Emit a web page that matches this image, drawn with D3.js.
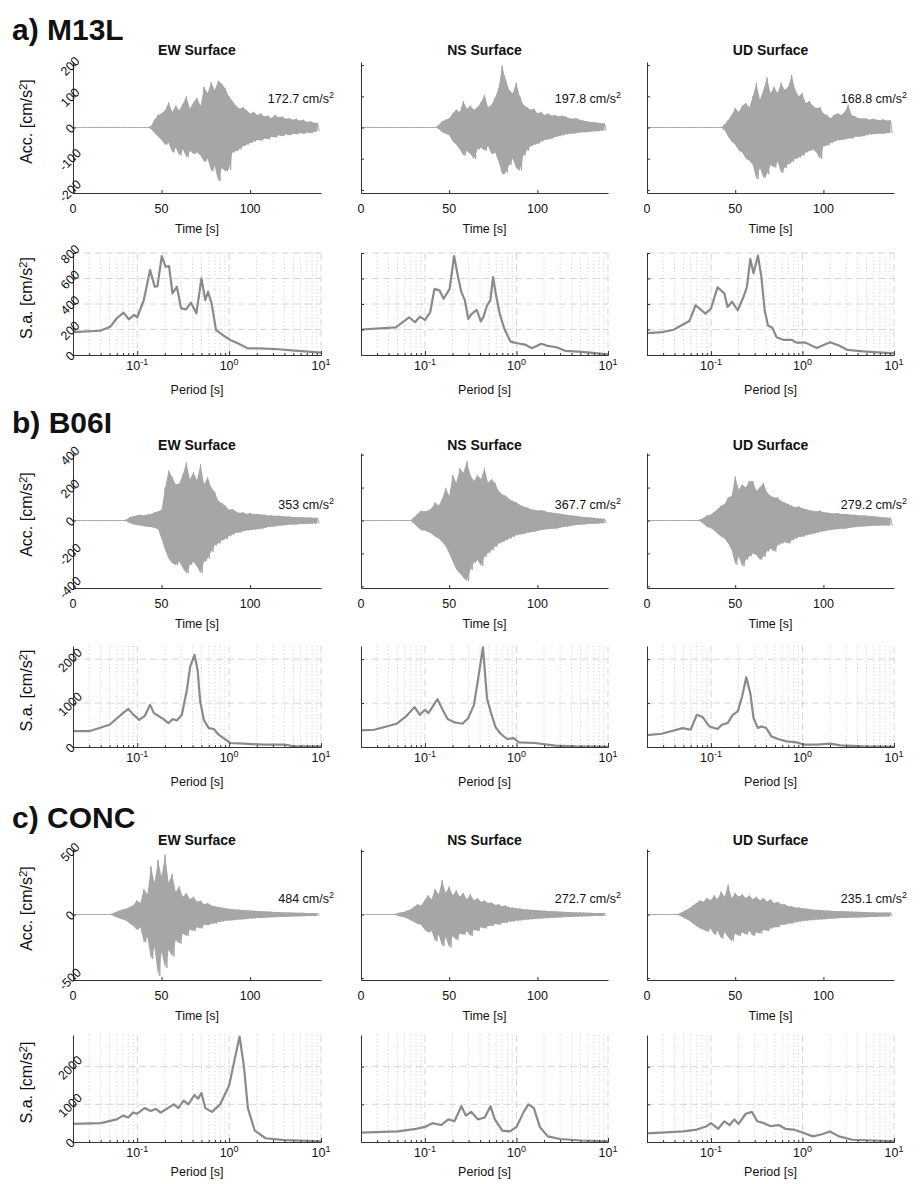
<!DOCTYPE html>
<html>
<head>
<meta charset="utf-8">
<script src="https://cdn.jsdelivr.net/npm/d3@7"></script>
<style>
  body { margin: 0; background: #fff; }
  svg { display: block; }
  text { font-family: "Liberation Sans", Arial, sans-serif; fill: #111; }
</style>
</head>
<body>
<div id="container"></div>
<script>
"use strict";

// Stations (rows) and components (columns).
const stations = ["a) M13L", "b) B06I", "c) CONC"];
const components = ["EW Surface", "NS Surface", "UD Surface"];

// Peak ground acceleration written on each record [cm/s^2].
const pgaLabels = [
  ["172.7", "197.8", "168.8"],
  ["353", "367.7", "279.2"],
  ["484", "272.7", "235.1"],
];

// Ticks.
const timeTicks = [0, 50, 100];
const periodTicks = [0.1, 1, 10];
const periodMinorTicks = [0.03, 0.04, 0.05, 0.06, 0.07, 0.08, 0.09,
  0.2, 0.3, 0.4, 0.5, 0.6, 0.7, 0.8, 0.9, 2, 3, 4, 5, 6, 7, 8, 9];
const accTicks = [[-200, -100, 0, 100, 200], [-400, -200, 0, 200, 400], [-500, 0, 500]];
const saTicks = [[0, 200, 400, 600, 800], [0, 1000, 2000], [0, 1000, 2000]];
const accLimits = [210, 410, 516];
const saLimits = [800, 2300, 2840];
const timeLimits = [0, 140];
const periodLimits = [0.02, 10];

// Acceleration records, kept as the positive and negative peak of each
// 2 s window, starting at t = 0 s [cm/s^2].
const binWidth = 2;

const accM13L_EW_up = [0,0,0,0,0,0,0,0,0,0,0,0,0,0,0,0,0,0,0,0,0,0,
  5,25,40,45,55,80,50,70,55,75,100,60,80,95,70,130,110,145,120,150,140,125,100,85,70,60,65,55,45,50,40,45,35,38,30,40,32,35,28,30,25,28,22,25,18,20,15,14];
const accM13L_EW_lo = [0,0,0,0,0,0,0,0,0,0,0,0,0,0,0,0,0,0,0,0,0,0,
  -5,-18,-30,-40,-55,-50,-80,-65,-90,-70,-95,-75,-85,-80,-90,-110,-100,-140,-125,-172,-130,-140,-135,-80,-75,-70,-60,-55,-50,-45,-40,-42,-35,-38,-30,-32,-25,-28,-22,-25,-20,-22,-18,-20,-16,-18,-14,-12];
const accM13L_NS_up = [0,0,0,0,0,0,0,0,0,0,0,0,0,0,0,0,0,0,0,0,0,0,
  8,20,25,30,45,57,50,84,60,70,57,65,80,105,65,73,95,127,198,154,120,110,143,100,73,65,57,60,45,50,40,45,38,40,35,38,35,30,28,30,25,22,20,18,18,15,14,13];
const accM13L_NS_lo = [0,0,0,0,0,0,0,0,0,0,0,0,0,0,0,0,0,0,0,0,0,0,
  -5,-15,-20,-25,-45,-55,-70,-90,-75,-85,-101,-70,-65,-74,-60,-85,-80,-110,-150,-145,-120,-100,-130,-139,-90,-74,-60,-55,-52,-45,-40,-38,-35,-30,-28,-25,-22,-20,-20,-18,-16,-15,-15,-14,-12,-12,-10,-10];
const accM13L_UD_up = [0,0,0,0,0,0,0,0,0,0,0,0,0,0,0,0,0,0,0,0,0,0,
  10,24,40,62,50,70,78,65,100,143,90,120,160,110,130,111,143,120,130,168,120,100,110,78,85,70,62,65,45,40,29,40,45,40,50,73,40,35,30,29,30,25,28,25,24,26,22,24];
const accM13L_UD_lo = [0,0,0,0,0,0,0,0,0,0,0,0,0,0,0,0,0,0,0,0,0,0,
  -10,-30,-45,-55,-74,-80,-100,-107,-120,-166,-130,-161,-150,-120,-128,-110,-145,-130,-117,-110,-100,-96,-90,-80,-75,-70,-80,-101,-60,-58,-50,-45,-41,-40,-38,-35,-35,-30,-30,-28,-25,-22,-22,-20,-20,-20,-18,-18];

const accB06I_EW_up = [0,0,0,0,0,0,0,0,0,0,0,0,0,0,0,
  5,20,26,30,35,30,36,40,50,55,65,200,303,263,220,224,280,352,250,293,244,343,220,263,200,174,120,105,90,65,70,55,46,50,40,45,38,40,36,35,30,32,28,30,26,25,24,22,22,20,20,18,18,16,16];
const accB06I_EW_lo = [0,0,0,0,0,0,0,0,0,0,0,0,0,0,0,
  -5,-15,-24,-28,-30,-35,-38,-40,-45,-53,-113,-180,-232,-260,-271,-250,-290,-320,-270,-251,-280,-320,-250,-232,-190,-152,-140,-120,-113,-95,-85,-75,-73,-65,-60,-58,-55,-53,-50,-45,-40,-38,-35,-32,-30,-28,-26,-25,-24,-22,-22,-20,-20,-18,-18];
const accB06I_NS_up = [0,0,0,0,0,0,0,0,0,0,0,0,0,0,0,
  20,40,59,55,60,75,109,90,130,198,150,277,230,317,290,360,277,240,277,250,317,230,250,228,180,158,150,130,119,110,95,85,79,70,65,60,62,59,50,48,45,42,40,35,32,30,28,25,22,20,18,16,14,12,10];
const accB06I_NS_lo = [0,0,0,0,0,0,0,0,0,0,0,0,0,0,0,
  -20,-40,-59,-60,-70,-80,-99,-110,-130,-158,-200,-250,-297,-320,-347,-367,-300,-257,-240,-277,-220,-198,-180,-160,-139,-130,-120,-110,-99,-90,-85,-80,-75,-70,-69,-62,-58,-55,-52,-50,-50,-45,-40,-38,-35,-30,-28,-26,-25,-22,-20,-20,-18,-16,-16];
const accB06I_UD_up = [0,0,0,0,0,0,0,0,0,0,0,0,0,0,0,
  5,15,30,35,50,70,89,100,139,150,267,190,218,200,240,238,180,200,228,170,150,139,140,119,110,100,90,79,85,75,70,62,59,55,60,50,48,45,42,45,40,40,38,35,35,32,30,30,28,26,25,22,20,18,16];
const accB06I_UD_lo = [0,0,0,0,0,0,0,0,0,0,0,0,0,0,0,
  -5,-20,-40,-45,-60,-80,-99,-110,-139,-180,-267,-220,-279,-240,-218,-200,-210,-238,-220,-188,-170,-188,-150,-140,-130,-139,-120,-110,-100,-99,-90,-85,-80,-75,-69,-65,-60,-58,-55,-52,-50,-50,-45,-42,-40,-38,-36,-35,-34,-32,-32,-30,-30,-30,-30];

const accCONC_EW_up = [0,0,0,0,0,0,0,0,0,0,0,
  5,20,30,40,45,60,70,110,90,200,160,380,250,430,300,470,250,320,180,220,140,170,120,140,100,110,80,90,70,65,60,55,50,45,42,40,38,36,34,32,30,28,26,25,24,22,20,20,18,18,16,15,14,14,13,12,12,11,10];
const accCONC_EW_lo = [0,0,0,0,0,0,0,0,0,0,0,
  -5,-20,-30,-40,-50,-70,-90,-120,-100,-220,-180,-350,-260,-484,-300,-420,-280,-330,-200,-230,-150,-170,-120,-130,-100,-110,-80,-85,-70,-70,-60,-55,-50,-48,-45,-42,-40,-38,-35,-32,-30,-28,-27,-25,-24,-22,-21,-20,-19,-18,-17,-16,-15,-14,-13,-12,-12,-11,-10];
const accCONC_NS_up = [0,0,0,0,0,0,0,0,0,0,
  5,15,20,30,40,60,80,70,110,150,120,200,160,272,170,220,150,190,140,170,120,160,110,130,100,110,90,95,75,80,65,70,55,55,48,48,42,40,38,36,34,32,30,28,26,25,24,22,20,20,18,17,16,15,14,13,12,12,11,10];
const accCONC_NS_lo = [0,0,0,0,0,0,0,0,0,0,
  -5,-15,-20,-30,-45,-60,-75,-80,-120,-140,-130,-210,-160,-250,-180,-260,-170,-200,-150,-160,-130,-170,-120,-130,-100,-110,-90,-90,-75,-80,-65,-65,-55,-55,-48,-48,-42,-42,-38,-36,-34,-32,-30,-28,-26,-25,-24,-22,-20,-20,-18,-17,-16,-15,-14,-13,-12,-12,-11,-10];
const accCONC_UD_up = [0,0,0,0,0,0,0,0,0,
  5,20,35,50,70,90,110,100,130,110,150,120,180,140,235,130,170,140,160,130,150,120,140,110,130,100,120,90,100,80,80,65,65,55,55,48,48,42,40,38,36,34,32,30,28,27,26,25,24,23,22,21,20,19,18,17,16,16,15,15,15];
const accCONC_UD_lo = [0,0,0,0,0,0,0,0,0,
  -5,-20,-35,-50,-70,-90,-110,-120,-135,-110,-160,-130,-190,-140,-180,-210,-150,-170,-140,-160,-130,-170,-140,-150,-120,-130,-110,-100,-100,-80,-80,-70,-70,-62,-58,-52,-50,-46,-44,-42,-40,-38,-35,-33,-31,-29,-28,-27,-26,-25,-24,-23,-22,-21,-20,-19,-18,-17,-16,-15,-15];

// Response spectra, [period s, S.a. cm/s^2].
const saM13L_EW = [[0.02,180],[0.0395,190],[0.051,222],[0.06,288],[0.071,332],[0.081,280],[0.092,314],[0.1,296],[0.118,431],[0.138,666],[0.155,535],[0.166,540],[0.185,776],[0.204,692],[0.222,697],[0.242,483],[0.27,535],[0.30,366],[0.34,358],[0.385,410],[0.44,327],[0.50,601],[0.55,431],[0.59,496],[0.645,405],[0.72,196],[0.85,157],[1.03,118],[1.24,92],[1.6,52],[2.2,52],[3.4,45],[5.2,34],[10,18]];
const saM13L_NS = [[0.02,200],[0.048,217],[0.067,296],[0.078,257],[0.088,301],[0.1,275],[0.114,335],[0.127,519],[0.144,507],[0.16,441],[0.186,519],[0.208,776],[0.23,612],[0.25,493],[0.273,428],[0.297,283],[0.324,323],[0.368,354],[0.408,264],[0.437,301],[0.476,388],[0.518,428],[0.555,612],[0.594,480],[0.656,323],[0.74,202],[0.86,105],[1.02,92],[1.27,79],[1.47,53],[1.87,88],[2.2,71],[2.73,61],[3.4,33],[5.2,25],[10,5]];
const saM13L_UD = [[0.02,171],[0.0293,179],[0.039,198],[0.058,266],[0.068,390],[0.087,325],[0.1,364],[0.118,531],[0.14,483],[0.152,377],[0.17,417],[0.196,351],[0.223,443],[0.247,533],[0.269,752],[0.292,642],[0.326,779],[0.355,616],[0.386,351],[0.42,232],[0.468,214],[0.52,140],[0.616,119],[0.76,119],[0.86,97],[1.08,97],[1.43,55],[2.0,100],[2.5,74],[3.1,40],[4.6,29],[10,13]];
const saB06I_EW = [[0.02,360],[0.03,360],[0.05,506],[0.07,771],[0.08,869],[0.089,755],[0.105,619],[0.121,710],[0.138,960],[0.152,771],[0.174,695],[0.193,636],[0.218,545],[0.244,636],[0.27,604],[0.306,733],[0.347,1300],[0.377,1830],[0.42,2095],[0.454,1755],[0.485,1035],[0.53,620],[0.60,431],[0.68,409],[0.77,280],[0.87,204],[1.03,91],[1.45,75],[2.4,52],[4.1,52],[5.1,14],[10,14]];
const saB06I_NS = [[0.02,377],[0.028,393],[0.049,529],[0.063,711],[0.077,908],[0.088,733],[0.1,847],[0.109,772],[0.137,1090],[0.156,847],[0.177,636],[0.211,560],[0.257,529],[0.297,658],[0.343,960],[0.384,1603],[0.43,2270],[0.476,1112],[0.528,772],[0.59,454],[0.67,302],[0.79,182],[0.93,204],[1.07,104],[1.58,91],[2.67,30],[4.4,14],[10,5]];
const saB06I_UD = [[0.02,272],[0.029,302],[0.049,431],[0.06,393],[0.07,733],[0.081,681],[0.096,468],[0.118,409],[0.132,506],[0.152,545],[0.173,733],[0.196,808],[0.219,1149],[0.243,1589],[0.269,1226],[0.292,658],[0.326,431],[0.355,468],[0.402,431],[0.458,241],[0.54,182],[0.67,127],[0.86,104],[1.06,52],[1.43,52],[2.0,75],[2.6,36],[4.6,14],[10,5]];
const saCONC_EW = [[0.02,480],[0.04,500],[0.06,600],[0.07,700],[0.08,650],[0.09,780],[0.1,750],[0.12,900],[0.14,820],[0.16,880],[0.18,780],[0.2,850],[0.25,1000],[0.28,900],[0.32,1100],[0.36,1000],[0.42,1250],[0.46,1150],[0.5,1300],[0.55,900],[0.65,800],[0.8,1000],[1.0,1500],[1.15,2200],[1.3,2800],[1.45,2000],[1.6,900],[1.9,300],[2.5,100],[4,50],[10,20]];
const saCONC_NS = [[0.02,250],[0.05,280],[0.08,350],[0.1,400],[0.12,500],[0.15,450],[0.18,600],[0.21,550],[0.25,950],[0.28,700],[0.32,800],[0.38,600],[0.45,650],[0.52,950],[0.58,600],[0.7,300],[0.85,280],[1.0,400],[1.2,800],[1.35,1000],[1.55,900],[1.8,400],[2.2,150],[3,80],[5,40],[10,20]];
const saCONC_UD = [[0.02,230],[0.05,280],[0.07,330],[0.09,420],[0.1,500],[0.12,350],[0.14,550],[0.16,450],[0.18,600],[0.2,480],[0.24,750],[0.28,800],[0.32,550],[0.38,500],[0.45,420],[0.55,450],[0.65,350],[0.8,330],[1.0,250],[1.3,150],[1.6,200],[2.0,280],[2.5,150],[3.5,60],[10,20]];

const accUp = [
  [accM13L_EW_up, accM13L_NS_up, accM13L_UD_up],
  [accB06I_EW_up, accB06I_NS_up, accB06I_UD_up],
  [accCONC_EW_up, accCONC_NS_up, accCONC_UD_up],
];
const accLo = [
  [accM13L_EW_lo, accM13L_NS_lo, accM13L_UD_lo],
  [accB06I_EW_lo, accB06I_NS_lo, accB06I_UD_lo],
  [accCONC_EW_lo, accCONC_NS_lo, accCONC_UD_lo],
];
const spectra = [
  [saM13L_EW, saM13L_NS, saM13L_UD],
  [saB06I_EW, saB06I_NS, saB06I_UD],
  [saCONC_EW, saCONC_NS, saCONC_UD],
];

// Page layout (pixels).
const columns = [
  { x0: 73, x1: 321 },
  { x0: 361, x1: 608 },
  { x0: 647, x1: 894 },
];
const rows = [
  { labelY: 40, titleY: 55, acc: [62, 193], sa: [253, 355], pgaY: 103 },
  { labelY: 433, titleY: 450, acc: [453, 588], sa: [646, 747], pgaY: 509 },
  { labelY: 828, titleY: 845, acc: [849, 980], sa: [1035, 1142], pgaY: 903 },
];
const AXIS_COLOR = "#333";
const TRACE_COLOR = "#a6a6a6";
const SPECTRUM_COLOR = "#8a8a8a";
const TICK_FONT = 12.5;
const YLABEL_FONT = 16;

const svg = d3.select("#container").append("svg").attr("width", 922).attr("height", 1184);

/** Append "text" with a superscript exponent. */
function supText(sel, before, sup, after, size) {
  sel.append("tspan").text(before);
  sel.append("tspan").attr("dy", -5).attr("font-size", size * 0.72).text(sup);
  if (after) sel.append("tspan").attr("dy", 5).text(after);
  return sel;
}

function styleAxis(g) {
  g.select(".domain").attr("stroke", AXIS_COLOR).attr("stroke-width", 1);
  g.selectAll(".tick line").attr("stroke", AXIS_COLOR).attr("stroke-width", 1);
  g.selectAll(".tick text").remove();
}

function drawRotatedYTicks(g, y, ticks, x0) {
  ticks.forEach((v) => {
    g.append("text")
      .attr("transform", `translate(${x0 - 3},${y(v) + 1}) rotate(-45)`)
      .attr("text-anchor", "middle")
      .attr("dy", "0.35em")
      .attr("font-size", TICK_FONT)
      .text(String(v));
  });
}

function drawYLabel(cy, text) {
  const t = svg.append("text")
    .attr("transform", `translate(32,${cy}) rotate(-90)`)
    .attr("text-anchor", "middle")
    .attr("font-size", YLABEL_FONT);
  supText(t, `${text} [cm/s`, "2", "]", YLABEL_FONT);
}

function drawAcc(r, c) {
  const L = rows[r], C = columns[c];
  const g = svg.append("g");
  const x = d3.scaleLinear().domain(timeLimits).range([C.x0, C.x1]);
  const y = d3.scaleLinear().domain([-accLimits[r], accLimits[r]]).range([L.acc[1], L.acc[0]]);

  // Draw trace: filled band between the window peaks, plus the swing
  // from each positive peak to the negative one (gives the flat pre-event line).
  const up = accUp[r][c], lo = accLo[r][c];
  g.append("path")
    .attr("d", d3.area()
      .x((d, i) => x(i * binWidth))
      .y0((d, i) => y(lo[i]))
      .y1((d) => y(d))(up))
    .attr("fill", TRACE_COLOR);
  const pts = [];
  up.forEach((v, i) => {
    pts.push([i * binWidth, v]);
    pts.push([i * binWidth + binWidth / 2, lo[i]]);
  });
  g.append("path")
    .attr("d", d3.line().x((d) => x(d[0])).y((d) => y(d[1]))(pts))
    .attr("fill", "none")
    .attr("stroke", TRACE_COLOR)
    .attr("stroke-width", 1);

  // Draw x-axis.
  g.append("g")
    .attr("transform", `translate(0,${L.acc[1]})`)
    .call(d3.axisBottom(x).tickValues(timeTicks).tickSizeInner(-3).tickSizeOuter(0))
    .call(styleAxis);
  timeTicks.forEach((v) => {
    g.append("text").attr("x", x(v)).attr("y", L.acc[1] + 20)
      .attr("text-anchor", "middle").attr("font-size", TICK_FONT).text(v);
  });
  g.append("text").attr("x", (C.x0 + C.x1) / 2).attr("y", L.acc[1] + 40)
    .attr("text-anchor", "middle").attr("font-size", TICK_FONT).text("Time [s]");

  // Draw y-axis.
  g.append("g")
    .attr("transform", `translate(${C.x0},0)`)
    .call(d3.axisLeft(y).tickValues(accTicks[r]).tickSizeInner(-3).tickSizeOuter(0))
    .call(styleAxis);
  if (c === 0) {
    drawRotatedYTicks(g, y, accTicks[r], C.x0);
    drawYLabel((L.acc[0] + L.acc[1]) / 2 - 6, "Acc.");
  }

  // Title and peak value.
  g.append("text").attr("x", (C.x0 + C.x1) / 2).attr("y", L.titleY)
    .attr("text-anchor", "middle").attr("font-size", 14).attr("font-weight", "bold")
    .text(components[c]);
  const t = g.append("text").attr("x", C.x1 + 13).attr("y", L.pgaY)
    .attr("text-anchor", "end").attr("font-size", TICK_FONT);
  supText(t, `${pgaLabels[r][c]} cm/s`, "2", null, TICK_FONT);
}

function drawSpectrum(r, c) {
  const L = rows[r], C = columns[c];
  const g = svg.append("g");
  const x = d3.scaleLog().domain(periodLimits).range([C.x0, C.x1]);
  const y = d3.scaleLinear().domain([0, saLimits[r]]).range([L.sa[1], L.sa[0]]);

  // Grid: dotted minor lines, dashed major lines.
  g.selectAll(null).data(periodMinorTicks).join("line")
    .attr("x1", (d) => x(d)).attr("x2", (d) => x(d))
    .attr("y1", L.sa[0]).attr("y2", L.sa[1])
    .attr("stroke", "#bdbdbd").attr("stroke-width", 0.8).attr("stroke-dasharray", "1,2.6");
  g.selectAll(null).data(periodTicks).join("line")
    .attr("x1", (d) => x(d)).attr("x2", (d) => x(d))
    .attr("y1", L.sa[0]).attr("y2", L.sa[1])
    .attr("stroke", "#d6d6d6").attr("stroke-width", 1).attr("stroke-dasharray", "7,4");
  g.selectAll(null).data(saTicks[r].filter((d) => d > 0)).join("line")
    .attr("x1", C.x0).attr("x2", C.x1)
    .attr("y1", (d) => y(d)).attr("y2", (d) => y(d))
    .attr("stroke", "#d6d6d6").attr("stroke-width", 1).attr("stroke-dasharray", "7,4");

  // Draw spectrum.
  g.append("path")
    .attr("d", d3.line().x((d) => x(d[0])).y((d) => y(d[1]))(spectra[r][c]))
    .attr("fill", "none")
    .attr("stroke", SPECTRUM_COLOR)
    .attr("stroke-width", 2.2)
    .attr("stroke-linejoin", "round");

  // Draw x-axis.
  g.append("g")
    .attr("transform", `translate(0,${L.sa[1]})`)
    .call(d3.axisBottom(x).tickValues(periodMinorTicks).tickSizeInner(-2).tickSizeOuter(0))
    .call(styleAxis);
  g.append("g")
    .attr("transform", `translate(0,${L.sa[1]})`)
    .call(d3.axisBottom(x).tickValues(periodTicks).tickSizeInner(-4).tickSizeOuter(0))
    .call(styleAxis);
  periodTicks.forEach((v) => {
    const t = g.append("text").attr("x", x(v)).attr("y", L.sa[1] + 15)
      .attr("text-anchor", "middle").attr("font-size", TICK_FONT);
    supText(t, "10", String(Math.round(Math.log10(v))), null, TICK_FONT);
  });
  // Keep the bottom label inside the page.
  g.append("text").attr("x", (C.x0 + C.x1) / 2).attr("y", Math.min(L.sa[1] + 39, 1176))
    .attr("text-anchor", "middle").attr("font-size", TICK_FONT).text("Period [s]");

  // Draw y-axis.
  g.append("g")
    .attr("transform", `translate(${C.x0},0)`)
    .call(d3.axisLeft(y).tickValues(saTicks[r]).tickSizeInner(-3).tickSizeOuter(0))
    .call(styleAxis);
  if (c === 0) {
    drawRotatedYTicks(g, y, saTicks[r], C.x0);
    drawYLabel((L.sa[0] + L.sa[1]) / 2 - 6, "S.a.");
  }
}

stations.forEach((name, r) => {
  svg.append("text")
    .attr("x", 12).attr("y", rows[r].labelY)
    .attr("font-family", "Roboto, sans-serif")
    .attr("font-weight", "bold")
    .attr("font-size", 30)
    .text(name);
  components.forEach((_, c) => {
    drawAcc(r, c);
    drawSpectrum(r, c);
  });
});
</script>
</body>
</html>
